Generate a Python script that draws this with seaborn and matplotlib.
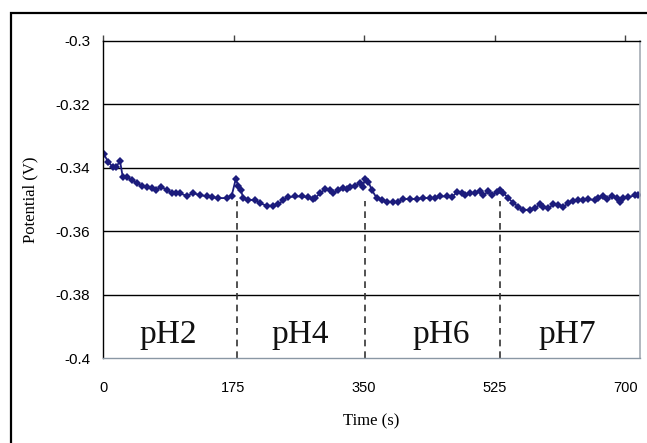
import matplotlib
matplotlib.use("Agg")
import matplotlib.pyplot as plt
import seaborn as sns
import pandas as pd
from matplotlib.patches import Rectangle

# ---- data ----
time_s = [1.3, 6.7, 13.4, 17.4, 22.8, 26.4, 31.8, 38.5, 45.2, 51.9, 58.6, 65.3, 71.1, 77.8,
          85.4, 92.1, 97.9, 103.3, 112.2, 120.7, 130.1, 139.1, 145.8, 154.6, 165.9, 172.6,
          178.0, 181.4, 184.7, 188.1, 194.8, 203.8, 210.5, 219.5, 228.4, 235.1, 241.8, 248.5,
          257.5, 266.5, 275.3, 282.0, 284.3, 291.0, 297.7, 304.4, 308.8, 315.5, 322.2, 326.8,
          331.2, 337.9, 344.6, 348.3, 351.3, 355.8, 360.3, 367.0, 373.7, 380.4, 389.3, 396.0,
          402.7, 411.7, 420.7, 429.1, 438.5, 445.2, 451.9, 460.9, 467.6, 474.3, 481.0, 485.4,
          492.1, 498.9, 505.6, 510.0, 516.7, 521.2, 527.9, 532.4, 536.8, 543.5, 550.2, 556.9,
          563.6, 572.6, 579.3, 586.0, 590.4, 597.2, 603.9, 610.6, 617.3, 624.0, 630.7, 637.4,
          644.1, 650.8, 659.8, 664.2, 670.9, 676.3, 682.2, 688.9, 693.3, 697.7, 704.4, 713.4,
          717.8]
potential_v = [-0.3358, -0.3381, -0.3399, -0.3399, -0.3379, -0.3428, -0.3430, -0.3439, -0.3449,
               -0.3457, -0.3462, -0.3465, -0.3470, -0.3460, -0.3470, -0.3481, -0.3481, -0.3481,
               -0.3489, -0.3481, -0.3486, -0.3491, -0.3493, -0.3496, -0.3496, -0.3488, -0.3436,
               -0.3457, -0.3470, -0.3496, -0.3502, -0.3502, -0.3512, -0.3520, -0.3520, -0.3516,
               -0.3502, -0.3493, -0.3491, -0.3491, -0.3493, -0.3499, -0.3496, -0.3481, -0.3468,
               -0.3470, -0.3481, -0.3472, -0.3465, -0.3468, -0.3460, -0.3457, -0.3449, -0.3460,
               -0.3436, -0.3444, -0.3470, -0.3496, -0.3502, -0.3507, -0.3509, -0.3507, -0.3499,
               -0.3499, -0.3499, -0.3496, -0.3496, -0.3496, -0.3491, -0.3491, -0.3493, -0.3478,
               -0.3480, -0.3486, -0.3480, -0.3480, -0.3475, -0.3486, -0.3475, -0.3486, -0.3478,
               -0.3470, -0.3480, -0.3496, -0.3512, -0.3523, -0.3533, -0.3533, -0.3528, -0.3515,
               -0.3523, -0.3528, -0.3515, -0.3517, -0.3523, -0.3512, -0.3505, -0.3502, -0.3502,
               -0.3500, -0.3502, -0.3496, -0.3491, -0.3499, -0.3489, -0.3496, -0.3507, -0.3496,
               -0.3493, -0.3487, -0.3486]

x_ticks = [0, 175, 350, 525, 700]
x_tick_labels = ["0", "175", "350", "525", "700"]
y_ticks = [-0.4, -0.38, -0.36, -0.34, -0.32, -0.3]
y_tick_labels = ["-0.4", "-0.38", "-0.36", "-0.34", "-0.32", "-0.3"]

ph_labels = ["pH2", "pH4", "pH6", "pH7"]
ph_label_x = [87.5, 264, 453, 623]
ph_switch_times = [180, 351, 532]

# ---- plotting ----
sns.set_theme(style="white")
plt.rcParams["font.family"] = ["Liberation Sans", "DejaVu Sans"]

fig = plt.figure(figsize=(6.47, 4.43), dpi=100)
ax = fig.add_axes([103 / 647, 1 - 358 / 443, 537 / 647, (358 - 40.7) / 443])

df = pd.DataFrame({"Time (s)": time_s, "Potential (V)": potential_v})
sns.lineplot(data=df, x="Time (s)", y="Potential (V)", ax=ax, color="#1c1c7c",
             marker="D", markersize=3.6, markeredgewidth=0, linewidth=1.3)

ax.set_xlim(0, 720)
ax.set_ylim(-0.4, -0.3)

# horizontal gridlines
for yv in y_ticks[1:-1]:
    ax.axhline(yv, color="black", lw=1.0, zorder=1)

# dashed separators
ax.vlines(ph_switch_times, -0.4, -0.3505, colors="#333333", linestyles=(0, (4, 3)), lw=1.2)

for lab, xv in zip(ph_labels, ph_label_x):
    ax.text(xv, -0.3953, lab, ha="center", va="baseline", fontsize=24,
            family=["Liberation Serif", "DejaVu Serif"], color="#111111")

ax.set_xticks(x_ticks)
ax.set_xticklabels(x_tick_labels)
ax.set_yticks(y_ticks)
ax.set_yticklabels(y_tick_labels)
ax.tick_params(axis="x", bottom=False, top=True, labelbottom=True, labeltop=False,
               direction="out", length=4, width=1, color="#444444", pad=12.5,
               labelsize=10.5, labelcolor="black")
ax.tick_params(axis="y", left=False, length=0, pad=9, labelsize=11, labelcolor="black")

for side in ["left", "top"]:
    ax.spines[side].set_color("black")
    ax.spines[side].set_linewidth(1.0)
ax.spines["bottom"].set_color("#8a97a4")
ax.spines["right"].set_color("#a4acb4")
ax.spines["bottom"].set_linewidth(1.0)
ax.spines["right"].set_linewidth(1.2)

serif = ["Liberation Serif", "DejaVu Serif"]
ax.set_xlabel("Time (s)", fontsize=12, family=serif, color="black")
ax.set_ylabel("Potential (V)", fontsize=12, family=serif, color="black")
ax.xaxis.label.set_va("center")
ax.yaxis.label.set_va("center")
ax.xaxis.set_label_coords(0.5, -(421.7 - 358) / 317.3)
ax.yaxis.set_label_coords(-(103 - 30) / 537, 0.5)

# outer frame (cut off on right and bottom in the reference)
fig.add_artist(Rectangle((11 / 647, -0.2), 2.0, 1.2 - 13 / 443, transform=fig.transFigure,
                         fill=False, ec="black", lw=1.6))

fig.savefig("out.png", dpi=100)
